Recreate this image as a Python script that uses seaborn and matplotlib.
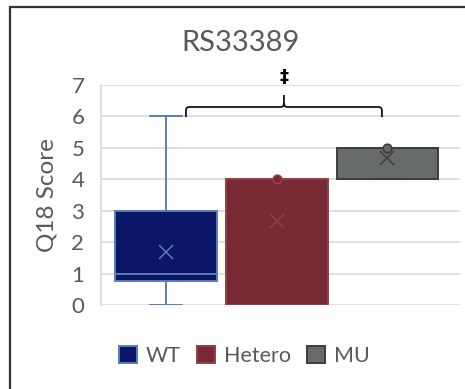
import numpy as np
import pandas as pd
import matplotlib
matplotlib.use("Agg")
import matplotlib.pyplot as plt
import seaborn as sns
from matplotlib.patches import Patch, Rectangle, PathPatch
from matplotlib.path import Path

# Q18 scores per genotype
groups = ["WT", "Hetero", "MU"]
wt_scores = [0, 0, 0, 0, 1, 1, 1, 1, 1, 2, 2, 3, 3, 3, 3, 6]
hetero_scores = [0, 0, 0, 4, 4, 4, 4, 4, 4]
mu_scores = [4, 4, 4, 5, 5, 5, 5, 5, 5]

# single points drawn on top of the boxes
dot_groups = ["Hetero", "MU"]
dot_values = [4, 5]

title = "RS33389"
y_label = "Q18 Score"
y_ticks = [0, 1, 2, 3, 4, 5, 6, 7]
sig_mark = "\u2021"
bracket_from, bracket_to = "WT", "MU"

fills = {"WT": "#0b1666", "Hetero": "#772a33", "MU": "#686b6b"}
edges = {"WT": "#5b7cb8", "Hetero": "#943e47", "MU": "#3d3d3d"}
text_color = "#595959"

df = pd.DataFrame({
    "group": ["WT"] * len(wt_scores) + ["Hetero"] * len(hetero_scores) + ["MU"] * len(mu_scores),
    "score": wt_scores + hetero_scores + mu_scores,
})

sns.set_theme(style="white")
plt.rcParams["font.family"] = ["Lato", "DejaVu Sans"]

W, H = 465, 389
fig = plt.figure(figsize=(W / 100, H / 100), dpi=100)
ax = fig.add_axes([101 / W, 1 - 305 / H, 359 / W, 220 / H])

box_width = 0.92
for g in groups:
    sub = df[df["group"] == g]
    sns.boxplot(
        data=sub, x="group", y="score", order=groups, ax=ax,
        width=box_width, color=fills[g], linecolor=edges[g], linewidth=1.4,
        saturation=1, showfliers=False, showmeans=True,
        meanprops=dict(marker="x", markeredgecolor=edges[g], markersize=10,
                       markeredgewidth=1.1),
        zorder=3,
    )

# narrow whisker caps
for ln in ax.lines:
    xd, yd = np.asarray(ln.get_xdata(), float), np.asarray(ln.get_ydata(), float)
    if len(xd) == 2 and yd[0] == yd[1] and 0 < abs(xd[1] - xd[0]) < 0.8:
        c = xd.mean()
        ln.set_xdata([c - 0.14, c + 0.14])

# points at the top of the Hetero and MU boxes
dot_x = [groups.index(g) for g in dot_groups]
for x, y, g in zip(dot_x, dot_values, dot_groups):
    ax.scatter([x], [y], s=38, color=fills[g], edgecolor=edges[g],
               linewidth=1.2, zorder=5, clip_on=False)

ax.set_xlim(-0.587, 2.655)
ax.set_ylim(0, 7)
ax.set_yticks(y_ticks)
ax.set_xticks([])
ax.set_xlabel("")
ax.set_ylabel(y_label, fontsize=17.5, color=text_color, labelpad=10)
ax.yaxis.grid(True, color="#d9d9d9", linewidth=1.2, zorder=0)
ax.set_axisbelow(True)
ax.tick_params(axis="y", length=0, labelsize=16, labelcolor=text_color, pad=12)
for side in ["top", "right", "bottom"]:
    ax.spines[side].set_visible(False)
ax.spines["left"].set_color("#d9d9d9")
ax.spines["left"].set_linewidth(1.2)

# significance bracket between WT and MU
x0 = groups.index(bracket_from) + 0.18
x1 = groups.index(bracket_to) - 0.05
xm = (x0 + x1) / 2
y_end, y_bar, y_tip = 5.98, 6.30, 6.68
rx, ry = 0.03, 0.12
verts = [
    (x0, y_end), (x0, y_bar - ry), (x0, y_bar), (x0 + rx, y_bar),
    (xm - rx, y_bar), (xm, y_bar), (xm, y_bar + ry), (xm, y_tip),
    (xm, y_bar + ry), (xm, y_bar), (xm + rx, y_bar),
    (x1 - rx, y_bar), (x1, y_bar), (x1, y_bar - ry), (x1, y_end),
]
codes = [Path.MOVETO, Path.LINETO, Path.CURVE3, Path.CURVE3,
         Path.LINETO, Path.CURVE3, Path.CURVE3, Path.LINETO,
         Path.MOVETO, Path.CURVE3, Path.CURVE3,
         Path.LINETO, Path.CURVE3, Path.CURVE3, Path.LINETO]
ax.add_patch(PathPatch(Path(verts, codes), fill=False, edgecolor="black",
                       linewidth=1.2, clip_on=False, zorder=6))
ax.text(xm, 7.25, sig_mark, ha="center", va="center", fontsize=13,
        fontweight="bold", family="DejaVu Sans", color="black", clip_on=False)

fig.text(241 / W, 1 - 43 / H, title, ha="center", va="center",
         fontsize=21, color=text_color)

handles = [Patch(facecolor=fills[g], edgecolor=edges[g], linewidth=1.4, label=g)
           for g in groups]
fig.legend(handles=handles, loc="center", bbox_to_anchor=(244 / W, 1 - 356 / H),
           ncol=3, frameon=False, fontsize=15.5, handlelength=0.85, handleheight=0.85,
           handletextpad=0.4, columnspacing=0.75, labelcolor=text_color)

# chart frame
fig.patches.append(Rectangle((10 / W, -0.1), 1.2, 1 - 7 / H + 0.1,
                             transform=fig.transFigure, fill=False,
                             edgecolor="#333333", linewidth=1.6))

fig.savefig("out.png", dpi=100)
